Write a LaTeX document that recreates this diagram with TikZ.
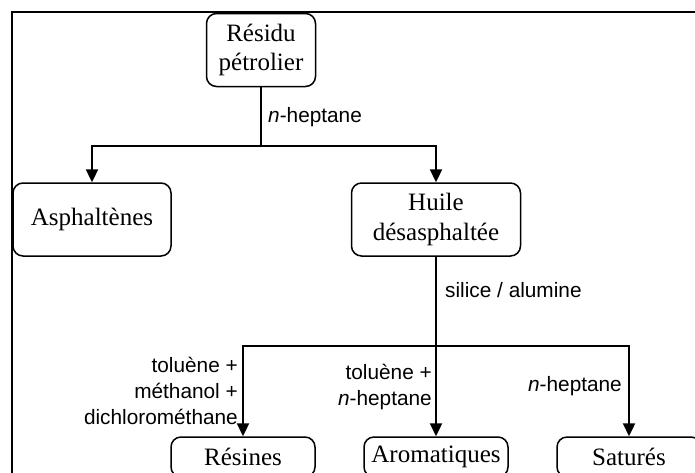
\documentclass[tikz,border=0pt]{standalone}
\usepackage{fontspec}
\setmainfont{Liberation Serif}
\setsansfont{Liberation Sans}
\usetikzlibrary{arrows.meta}

\tikzset{
  box/.style={draw, line width=1.5pt, rounded corners=10pt, align=center,
    inner sep=0pt, font=\fontsize{25}{29.5}\selectfont},
  link/.style={line width=2.3pt},
  arrowlink/.style={line width=2.3pt, line join=miter, -{Triangle[length=13pt,width=12pt]}},
  lab/.style={font=\sffamily\fontsize{20.8}{26}\selectfont, inner sep=0pt},
  frameline/.style={line width=2.8pt}
}

\begin{document}
\begin{tikzpicture}[x=1pt, y=-1pt]
  \useasboundingbox (0,0) rectangle (695,472);
  \clip (0,0) rectangle (695,472);

  % outer frame
  \draw[frameline] (12,12) rectangle (730,510);

  % boxes
  \node[box, minimum width=109pt, minimum height=73pt] (res) at (261,50) {Résidu\\pétrolier};
  \node[box, minimum width=158pt, minimum height=73pt] (asph) at (92,219.5) {Asphaltènes};
  \node[box, minimum width=169pt, minimum height=73pt] (huile) at (436,219.5) {Huile\\désasphaltée};
  \node[box, minimum width=144pt, minimum height=40pt] (resi) at (243,457) {Résines};
  \node[box, minimum width=144pt, minimum height=40pt] (arom) at (436,457) {Aromatiques};
  \node[box, minimum width=144pt, minimum height=40pt] (sat) at (629,457) {Saturés};

  % first split
  \coordinate (s1) at (261,146);
  \draw[link] (res.south) -- (s1);
  \draw[arrowlink] (s1) -| (asph.north);
  \draw[arrowlink] (s1) -| (huile.north);

  % second split
  \coordinate (s2) at (436,346);
  \draw[link] (huile.south) -- (s2);
  \draw[arrowlink] (s2) -| (resi.north);
  \draw[arrowlink] (s2) -- (arom.north);
  \draw[arrowlink] (s2) -| (sat.north);

  % labels
  \node[lab, anchor=west] (l1) at (268,117) {\textit{n}-heptane};
  \node[lab, anchor=west] (l2) at (445,290) {silice / alumine};
  \node[lab, anchor=east, align=right] (l3) at (238,391) {toluène +\\méthanol +\\dichlorométhane};
  \node[lab, anchor=east, align=right] (l4) at (432,387) {toluène +\\\textit{n}-heptane};
  \node[lab, anchor=east] (l5) at (622,386) {\textit{n}-heptane};
\end{tikzpicture}
\end{document}
